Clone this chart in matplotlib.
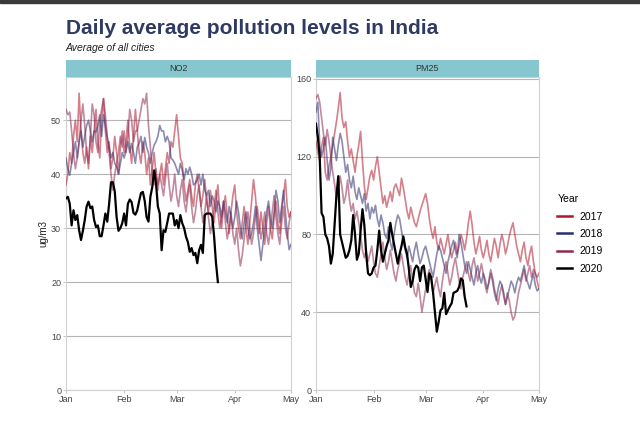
import matplotlib
matplotlib.use("Agg")
import matplotlib.pyplot as plt
import numpy as np
from matplotlib.lines import Line2D
from matplotlib.patches import Rectangle

plt.rcParams['font.family'] = ['Liberation Sans', 'DejaVu Sans']

years = ["2017", "2018", "2019", "2020"]
month_labels = ["Jan", "Feb", "Mar", "Apr", "May"]
month_days = [0, 31, 59, 90, 120]

no2_2017 = [38, 40, 44, 42, 47, 50, 46, 55, 48, 44,
            42, 45, 41, 47, 44, 48, 52, 46, 43, 50,
            54, 48, 44, 46, 41, 43, 47, 44, 40, 45,
            48, 44, 46, 50, 45, 42, 47, 52, 48, 44,
            42, 46, 44, 40, 43, 38, 41, 44, 40, 38,
            40, 42, 38, 41, 44, 42, 46, 45, 48, 51,
            47, 43, 42, 38, 35, 37, 39, 36, 34, 38,
            40, 37, 34, 36, 39, 35, 33, 37, 34, 31,
            35, 38, 33, 30, 34, 36, 32, 29, 33, 36,
            38, 33, 30, 28, 31, 34, 30, 27, 31, 35,
            39, 36, 32, 29, 33, 30, 27, 31, 34, 30,
            28, 32, 35, 31, 29, 33, 36, 39, 34, 32, 33]
no2_2018 = [43, 41, 39.8, 42, 44, 46, 43, 46, 48, 45,
            47, 49, 50, 48, 46, 48, 47.8, 49, 51, 47,
            51, 49, 46.8, 45, 43, 44, 42, 41.4, 40, 42,
            44, 43, 44.4, 46, 44, 45.7, 44, 42, 45, 45.7,
            47, 44, 46.8, 45, 43.9, 42, 44, 45.4, 46, 47,
            49, 48, 48, 46, 47, 46, 43, 42.6, 42, 41,
            40, 42, 40.7, 39, 41, 40, 41.3, 40, 38, 38.3,
            39, 40, 38, 40, 37, 36, 37, 34, 36, 35,
            33, 35, 34, 32, 35, 33, 31, 34, 32, 30,
            32, 35, 33, 30, 28, 31, 33, 30, 28, 29,
            31, 34, 30, 27, 24, 27, 30, 33, 35, 32,
            30, 33, 37, 35, 31, 34, 37, 33, 29, 26, 27]
no2_2019 = [52, 51, 51.5, 48, 44, 41, 43, 46, 50, 53,
            49, 44, 42, 47, 53, 51, 46, 44, 50, 52,
            54, 51, 47, 44, 40, 37, 40, 42, 44, 47,
            45, 48, 44, 47, 52, 50, 46, 48, 48, 50,
            52, 54, 53, 55, 49, 45, 40, 38, 41, 37,
            40, 38, 36, 39, 42, 38, 35, 37, 40, 36,
            34, 37, 39, 35, 33, 36, 38, 34, 31, 33,
            36, 38, 34, 31, 33, 36, 32, 29, 31, 34,
            37, 33, 30, 32, 35, 31, 28, 30, 33, 29,
            27, 30, 26, 23, 25, 28, 31, 33, 30, 27,
            29, 32, 34, 31, 28, 30, 33, 29, 27, 30,
            33, 36, 32, 29, 27, 31, 34, 30, 28, 31, 33]
no2_2020 = [35.5, 35.8, 34.5, 30.5, 33.3, 31.5, 32.4, 29.6, 27.8, 29.5,
            31.5, 34, 34.9, 33.7, 34, 31.5, 30.2, 30.5, 28.5, 28.5,
            30.5, 32.7, 31.2, 34.5, 38.5, 38.5, 36.8, 32, 29.5, 30,
            30.9, 32.7, 30.5, 34.5, 35.3, 34.8, 32.8, 32.5, 33.3, 35,
            36.5, 36.7, 35, 32, 31.2, 35.8, 37.6, 40.7, 38.3, 34,
            32.7, 25.9, 29.6, 29.3, 31, 32.7, 32.7, 32.7, 30.5, 31.5,
            30, 32.4, 30.9, 30, 28.4, 27.4, 25.6, 26.3, 25, 25.4,
            23.5, 25.9, 26.9, 25.4, 32.4, 32.7, 32.7, 32.7, 32.1, 28.4,
            23.5, 20]

pm25_2017 = [128, 122, 118, 125, 130, 112, 108, 115, 120, 126,
             132, 138, 145, 153, 140, 135, 138, 128, 120, 124,
             118, 112, 120, 126, 133, 118, 105, 98, 104, 110,
             113, 108, 115, 120, 112, 104, 96, 100, 94, 98,
             102, 97, 104, 106, 103, 100, 109, 104, 98, 92,
             88, 94, 90, 86, 84, 88, 92, 95, 98, 101,
             96, 88, 82, 78, 84, 76, 72, 78, 74, 70,
             75, 80, 73, 68, 72, 76, 70, 74, 80, 77,
             72, 78, 86, 92, 85, 76, 70, 74, 79, 72,
             68, 72, 77, 70, 66, 72, 78, 74, 68, 75,
             80, 76, 70, 74, 79, 83, 86, 80, 74, 70,
             66, 72, 76, 68, 64, 70, 74, 66, 60, 56, 52]
pm25_2018 = [143, 148, 126, 120, 124, 130, 118, 108, 114, 130,
             124, 118, 126, 132, 128, 120, 112, 116, 108, 104,
             110, 102, 98, 104, 100, 96, 101, 92, 96, 88,
             94, 91, 95, 88, 84, 90, 86, 80, 78, 84,
             76, 72, 80, 86, 90, 88, 82, 76, 72, 68,
             74, 70, 66, 72, 76, 70, 65, 68, 72, 74,
             70, 66, 62, 58, 64, 70, 74, 72, 68, 64,
             60, 66, 70, 74, 77, 72, 68, 80, 76, 70,
             64, 60, 66, 62, 58, 54, 60, 64, 58, 55,
             60, 57, 52, 55, 60, 56, 50, 46, 52, 56,
             54, 50, 44, 48, 52, 56, 54, 50, 55, 58,
             56, 60, 64, 58, 55, 52, 56, 60, 54, 51, 52]
pm25_2019 = [150, 152, 148, 140, 132, 126, 134, 128, 120, 112,
             106, 98, 102, 110, 104, 96, 100, 108, 98, 92,
             96, 88, 92, 86, 80, 72, 68, 72, 66, 70,
             74, 66, 60, 58, 64, 70, 76, 68, 62, 66,
             72, 66, 60, 56, 62, 66, 70, 64, 58, 54,
             60, 64, 56, 50, 48, 55, 48, 40, 46, 52,
             58, 62, 56, 50, 54, 58, 52, 48, 56, 62,
             66, 60, 54, 58, 64, 68, 62, 56, 52, 58,
             62, 66, 60, 56, 64, 68, 62, 56, 60, 65,
             60, 54, 50, 56, 62, 58, 52, 48, 44, 50,
             54, 48, 44, 50, 46, 40, 36, 38, 44, 50,
             54, 58, 62, 56, 60, 64, 58, 62, 60, 58, 60]
pm25_2020 = [137, 130, 120, 91, 89, 80, 78, 74, 65, 70,
             85, 100, 110, 80, 76, 72, 68, 69, 72, 77,
             90, 80, 67, 70, 82, 93, 85, 70, 60, 59,
             60, 63, 64, 72, 82, 72, 66, 70, 74, 77,
             86, 80, 75, 70, 65, 70, 74, 79, 73.5, 70,
             62, 53, 56, 62, 64, 63, 56, 63, 64, 57,
             50.4, 60, 58, 50, 40, 30, 35, 41, 42, 50,
             39, 41, 43, 44.6, 50, 50.4, 51, 53, 57.4, 56.4,
             48, 43]

base_colors = {"2017": "#b2182b", "2018": "#2b2d6e", "2019": "#8e2a50", "2020": "#000000"}

no2 = {"2017": no2_2017, "2018": no2_2018, "2019": no2_2019, "2020": no2_2020}
pm25 = {"2017": pm25_2017, "2018": pm25_2018, "2019": pm25_2019, "2020": pm25_2020}

W, H = 640, 421
fig = plt.figure(figsize=(6.4, 4.21), dpi=100)
fig.patch.set_facecolor("white")

def fx(px):
    return px / W

def fy(py):
    return 1 - py / H

panels = [
    ("NO2", no2, 66, 291, [0, 10, 20, 30, 40, 50], (0, 58)),
    ("PM25", pm25, 316, 539, [0, 40, 80, 120, 160], (0, 161)),
]
top_py, bot_py, strip_top = 77, 390, 60

axes = []
for name, data, x0, x1, yticks, ylim in panels:
    ax = fig.add_axes([fx(x0), fy(bot_py), (x1 - x0) / W, (bot_py - top_py) / H])
    for yr in years:
        vals = data[yr]
        if yr == "2020":
            ax.plot(np.arange(len(vals)), vals, color="black", lw=1.6, zorder=5)
        else:
            ax.plot(np.arange(len(vals)), vals, color=base_colors[yr], lw=1.2, alpha=0.55, zorder=3)
    ax.set_xlim(0, 120)
    ax.set_ylim(*ylim)
    ax.set_yticks(yticks)
    ax.set_xticks(month_days)
    ax.set_xticklabels(month_labels)
    ax.grid(axis="y", color="#b5b5b5", lw=0.8)
    ax.set_axisbelow(True)
    for s in ["left", "right", "bottom", "top"]:
        ax.spines[s].set_color("#d0d0d0")
        ax.spines[s].set_linewidth(0.8)
    ax.tick_params(axis="both", labelsize=6.5, colors="#444444", length=2, width=0.6, pad=1.5)
    ax.tick_params(axis="both", color="#bbbbbb")
    # strip
    sax = fig.add_axes([fx(x0), fy(top_py), (x1 - x0) / W, (top_py - strip_top) / H])
    sax.set_facecolor("#86c7cf")
    sax.set_xticks([])
    sax.set_yticks([])
    for s in sax.spines.values():
        s.set_visible(False)
    sax.text(0.5, 0.5, name, ha="center", va="center", fontsize=6.5, color="#333333",
             transform=sax.transAxes)
    axes.append(ax)

axes[0].set_ylabel("ug/m3", fontsize=7, color="#222222", labelpad=2)

fig.text(fx(66), fy(29), "Daily average pollution levels in India", fontsize=15,
         fontweight="bold", color="#2f3a62", ha="left", va="center")
fig.text(fx(66), fy(48), "Average of all cities", fontsize=7.5, style="italic",
         color="#222222", ha="left", va="center")

handles = [Line2D([0], [0], color=base_colors[y], lw=1.8) for y in years]
leg = fig.legend(handles, years, title="Year", loc="upper left",
                 bbox_to_anchor=(fx(548), fy(185)), frameon=False, fontsize=7.5,
                 title_fontsize=7.5, handlelength=1.4, handletextpad=0.7,
                 labelspacing=0.7)
leg._legend_box.align = "left"

fig.add_artist(Rectangle((0, fy(3)), 1, 3 / H, transform=fig.transFigure,
                         color="#3a3a3a", zorder=10))

fig.savefig("out.png", dpi=100)
